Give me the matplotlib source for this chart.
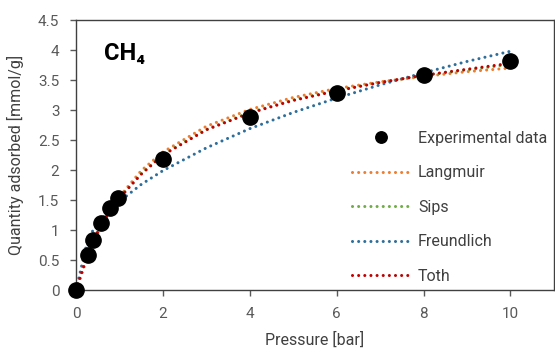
import numpy as np
import matplotlib
matplotlib.use("Agg")
import matplotlib.pyplot as plt

plt.rcParams['font.family'] = ['Roboto', 'DejaVu Sans']

# experimental isotherm
p_exp = [0, 0.27, 0.38, 0.58, 0.78, 0.97, 2, 4, 6, 8, 10]
q_exp = [0, 0.59, 0.84, 1.12, 1.36, 1.54, 2.18, 2.88, 3.29, 3.59, 3.81]

# model curves
p_fit = [0, 0.27, 0.38, 0.58, 0.78, 0.97, 1.5, 2, 3, 4, 5, 6, 7, 8, 9, 10]
q_langmuir = [0, 0.57, 0.76, 1.07, 1.32, 1.53, 1.99, 2.30, 2.73, 3.01, 3.21, 3.36, 3.47, 3.56, 3.64, 3.70]
q_sips = [0, 0.59, 0.80, 1.08, 1.32, 1.52, 1.94, 2.26, 2.68, 2.96, 3.17, 3.33, 3.46, 3.575, 3.67, 3.76]
q_freundlich = [0, 0.84, 0.98, 1.17, 1.33, 1.46, 1.76, 1.99, 2.37, 2.69, 2.96, 3.20, 3.42, 3.62, 3.81, 3.98]
q_toth = [0, 0.60, 0.80, 1.08, 1.32, 1.51, 1.93, 2.25, 2.67, 2.95, 3.16, 3.32, 3.46, 3.58, 3.68, 3.78]

fig = plt.figure(figsize=(5.55, 3.52), dpi=100)
ax = fig.add_axes([0.137, 0.176, 0.861, 0.767])

dots = (0, (0.01, 2.0))
lw = 2.2
ax.plot(p_fit, q_langmuir, color='#ED7D31', lw=lw, ls=dots, dash_capstyle='round', label='Langmuir', zorder=2)
ax.plot(p_fit, q_sips, color='#70AD47', lw=lw, ls=dots, dash_capstyle='round', label='Sips', zorder=2)
ax.plot(p_fit, q_freundlich, color='#2E6E9A', lw=lw, ls=dots, dash_capstyle='round', label='Freundlich', zorder=2)
ax.plot(p_fit, q_toth, color='#C00000', lw=lw, ls=dots, dash_capstyle='round', label='Toth', zorder=3)
ax.plot(p_exp, q_exp, 'o', color='black', ms=11, ls='none', label='Experimental data', zorder=5, clip_on=False)

ax.set_xlim(0, 11)
ax.set_ylim(0, 4.5)
ax.set_xticks([0, 2, 4, 6, 8, 10])
ax.set_yticks(np.arange(0, 4.51, 0.5))
ax.set_yticklabels(['%g' % v for v in np.arange(0, 4.51, 0.5)])
ax.tick_params(colors='#595959', labelsize=11, length=4, width=1, pad=8)
for s in ax.spines.values():
    s.set_color('#404040')
    s.set_linewidth(1)

ax.set_xlabel('Pressure [bar]', fontsize=11.5, color='#404040')
ax.set_ylabel('Quantity adsorbed [mmol/g]', fontsize=11.5, color='#404040')
ax.xaxis.set_label_coords(0.5, -0.155)
ax.yaxis.set_label_coords(-0.108, 0.5)

ax.text(0.058, 0.875, 'CH\u2084', transform=ax.transAxes, fontsize=17, fontweight='bold',
        va='center', ha='left', family=['Roboto', 'DejaVu Sans'])

h, l = ax.get_legend_handles_labels()
order = [4, 0, 1, 2, 3]
ax.legend([h[i] for i in order], [l[i] for i in order], loc='lower right',
          bbox_to_anchor=(1.016, -0.03), frameon=False, fontsize=11.5,
          labelspacing=1.22, handlelength=3.6, handletextpad=0.5,
          labelcolor='#404040', markerscale=0.75)

fig.savefig('out.png', dpi=100)
